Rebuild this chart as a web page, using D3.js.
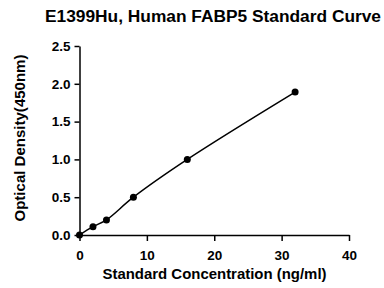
<!DOCTYPE html>
<html>
<head>
<meta charset="utf-8">
<script src="https://cdn.jsdelivr.net/npm/d3@7"></script>
<style>
  body { margin: 0; background: #fff; }
  text { font-family: "Liberation Sans", Arial, sans-serif; font-weight: bold; fill: #000; }
</style>
</head>
<body>
<script>
var concentrations = [0, 2, 4, 8, 16, 32];
var densities = [0, 0.11, 0.2, 0.5, 1.0, 1.89];
var xTicks = [0, 10, 20, 30, 40];
var yTicks = [0, 0.5, 1.0, 1.5, 2.0, 2.5];

var margin = {top: 46, right: 35, bottom: 53, left: 79.5},
    width = 384 - margin.left - margin.right,
    height = 288 - margin.top - margin.bottom;

var data = concentrations.map(function(c, i) { return {x: c, y: densities[i]}; });

var x = d3.scaleLinear().domain([0, 40]).range([0, width]);
var y = d3.scaleLinear().domain([0, 2.5]).range([height, 0]);

var svg = d3.select("body").append("svg")
    .attr("width", 384)
    .attr("height", 288);

var g = svg.append("g")
    .attr("transform", "translate(" + margin.left + "," + margin.top + ")");

// title
svg.append("text")
    .attr("x", 213)
    .attr("y", 22)
    .attr("text-anchor", "middle")
    .attr("textLength", 336)
    .attr("lengthAdjust", "spacingAndGlyphs")
    .style("font-size", "16px")
    .text("E1399Hu, Human FABP5 Standard Curve");

// x axis
var xAxis = g.append("g")
    .attr("transform", "translate(0," + height + ")")
    .call(d3.axisBottom(x).tickValues(xTicks).tickSize(6).tickSizeOuter(0).tickPadding(9));

// y axis
var yAxis = g.append("g")
    .call(d3.axisLeft(y).tickValues(yTicks).tickSize(5).tickSizeOuter(0).tickPadding(4)
        .tickFormat(d3.format(".1f")));

[xAxis, yAxis].forEach(function(a) {
    a.select(".domain").attr("stroke", "#000").attr("stroke-width", 1.5);
    a.selectAll(".tick line").attr("stroke", "#000").attr("stroke-width", 1.5);
    a.selectAll(".tick text").style("font-size", "13.5px").style("font-family", "Liberation Sans, Arial, sans-serif").style("font-weight", "bold");
});

// fitted curve through the standards
var line = d3.line()
    .x(function(d) { return x(d.x); })
    .y(function(d) { return y(d.y); })
    .curve(d3.curveCatmullRom.alpha(0.5));

g.append("path")
    .datum(data)
    .attr("fill", "none")
    .attr("stroke", "#000")
    .attr("stroke-width", 1.5)
    .attr("d", line);

g.selectAll("circle")
    .data(data)
    .enter().append("circle")
    .attr("cx", function(d) { return x(d.x); })
    .attr("cy", function(d) { return y(d.y); })
    .attr("r", 3.5)
    .attr("fill", "#000");

// axis titles
svg.append("text")
    .attr("x", 214.5)
    .attr("y", 279)
    .attr("text-anchor", "middle")
    .attr("textLength", 224)
    .attr("lengthAdjust", "spacingAndGlyphs")
    .style("font-size", "14.5px")
    .text("Standard Concentration (ng/ml)");

svg.append("text")
    .attr("transform", "translate(25,138) rotate(-90)")
    .attr("text-anchor", "middle")
    .attr("textLength", 167)
    .attr("lengthAdjust", "spacingAndGlyphs")
    .style("font-size", "14.5px")
    .text("Optical Density(450nm)");
</script>
</body>
</html>
